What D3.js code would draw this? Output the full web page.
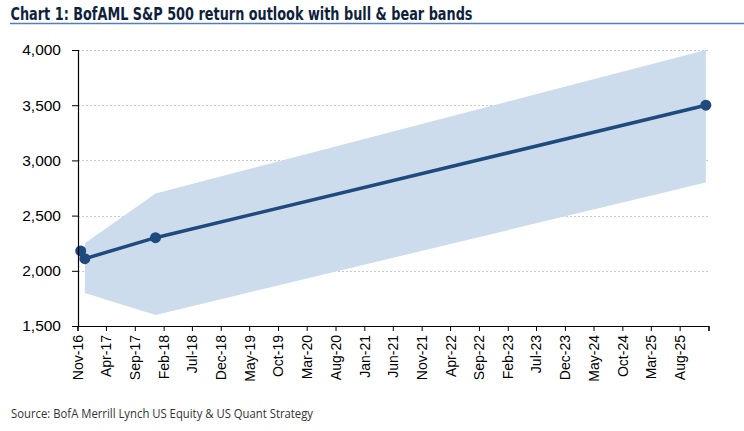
<!DOCTYPE html>
<html lang="en">
<head>
    <meta charset="utf-8" />
    <script src="https://d3js.org/d3.v7.min.js"></script>
    <style>
        body { margin: 0; background: #fff; }
        svg { display: block; }
    </style>
</head>
<body>
<div id="chart"></div>
<script>
    // --- data ---
    var outlookDates = ["2016-11-18", "2016-12-10", "2017-12-20", "2025-12-18"];
    var outlookValues = [2180, 2110, 2300, 3500];

    var bandDates = ["2016-12-10", "2017-12-20", "2025-12-18"];
    var bullValues = [2250, 2700, 4000];
    var bearValues = [1800, 1600, 2800];

    var yTicks = [1500, 2000, 2500, 3000, 3500, 4000];
    var axisStart = "2016-11-01";
    var tickCount = 23;   // every 5 months, last one (Jan-26) unlabelled

    var parse = d3.timeParse("%Y-%m-%d");
    var fmt = d3.timeFormat("%b-%y");

    var width = 744, height = 431;
    var svg = d3.select("#chart").append("svg")
        .attr("width", width).attr("height", height);

    // title + rule
    svg.append("text")
        .attr("x", 10.5).attr("y", 19.5)
        .attr("font-family", "'Liberation Sans Narrow', 'DejaVu Sans Condensed', 'Liberation Sans', sans-serif")
        .attr("font-weight", "bold")
        .attr("font-size", 18)
        .attr("fill", "#0f1f3d")
        .attr("textLength", 462)
        .attr("lengthAdjust", "spacingAndGlyphs")
        .text("Chart 1: BofAML S&P 500 return outlook with bull & bear bands");

    svg.append("line")
        .attr("x1", 10).attr("x2", 744)
        .attr("y1", 23.5).attr("y2", 23.5)
        .attr("stroke", "#4f7fbf").attr("stroke-width", 1.5);

    // scales
    var t0 = parse(axisStart);
    var tickDates = d3.range(tickCount).map(function (i) { return d3.timeMonth.offset(t0, 5 * i); });

    var x = d3.scaleTime()
        .domain([t0, tickDates[tickCount - 1]])
        .range([77.5, 708.5]);

    var y = d3.scaleLinear()
        .domain([1500, 4000])
        .range([326, 50]);

    // grid
    svg.append("g")
        .selectAll("line")
        .data(yTicks.slice(1))
        .enter()
        .append("line")
        .attr("x1", 78).attr("x2", 708.5)
        .attr("y1", function (d) { return Math.round(y(d)) + 0.5; })
        .attr("y2", function (d) { return Math.round(y(d)) + 0.5; })
        .attr("stroke", "#c8c8c8")
        .attr("stroke-dasharray", "2,2");

    // bull / bear band
    var area = d3.area()
        .x(function (d) { return x(d.date); })
        .y0(function (d) { return y(d.bear); })
        .y1(function (d) { return y(d.bull); });

    var band = bandDates.map(function (d, i) {
        return { date: parse(d), bull: bullValues[i], bear: bearValues[i] };
    });

    svg.append("path")
        .datum(band)
        .attr("d", area)
        .attr("fill", "#cddcec");

    // outlook line
    var pts = outlookDates.map(function (d, i) {
        return { date: parse(d), value: outlookValues[i] };
    });

    var line = d3.line()
        .x(function (d) { return x(d.date); })
        .y(function (d) { return y(d.value); });

    svg.append("path")
        .datum(pts)
        .attr("d", line)
        .attr("fill", "none")
        .attr("stroke", "#1f4a7e")
        .attr("stroke-width", 3.5);

    svg.append("g")
        .selectAll("circle")
        .data(pts)
        .enter()
        .append("circle")
        .attr("cx", function (d) { return x(d.date); })
        .attr("cy", function (d) { return y(d.value); })
        .attr("r", 5.5)
        .attr("fill", "#1f4a7e");

    // axes
    var yAxis = svg.append("g")
        .attr("transform", "translate(78,0)")
        .call(d3.axisLeft(y).tickValues(yTicks).tickFormat(d3.format(",")).tickSize(6).tickPadding(11));

    var xAxis = svg.append("g")
        .attr("transform", "translate(0,326)")
        .call(d3.axisBottom(x).tickValues(tickDates).tickSize(5).tickPadding(4)
            .tickFormat(function (d, i) { return i === tickCount - 1 ? "" : fmt(d); }));

    [yAxis, xAxis].forEach(function (g) {
        g.select(".domain").attr("stroke", "#000").attr("stroke-width", 1.2);
        g.selectAll(".tick line").attr("stroke", "#000");
        g.selectAll("text")
            .attr("font-family", "'Liberation Sans', Arial, sans-serif")
            .attr("fill", "#000");
    });
    yAxis.selectAll("text").attr("font-size", 15.5);

    xAxis.selectAll("text")
        .attr("font-size", 14)
        .attr("transform", "rotate(-90)")
        .attr("text-anchor", "end")
        .attr("x", -9)
        .attr("y", 0)
        .attr("dy", "0.35em");

    // source
    svg.append("text")
        .attr("x", 11).attr("y", 418)
        .attr("font-family", "'Open Sans', sans-serif")
        .attr("font-size", 12.5)
        .attr("fill", "#333")
        .attr("textLength", 302)
        .attr("lengthAdjust", "spacingAndGlyphs")
        .text("Source: BofA Merrill Lynch US Equity & US Quant Strategy");
</script>
</body>
</html>
